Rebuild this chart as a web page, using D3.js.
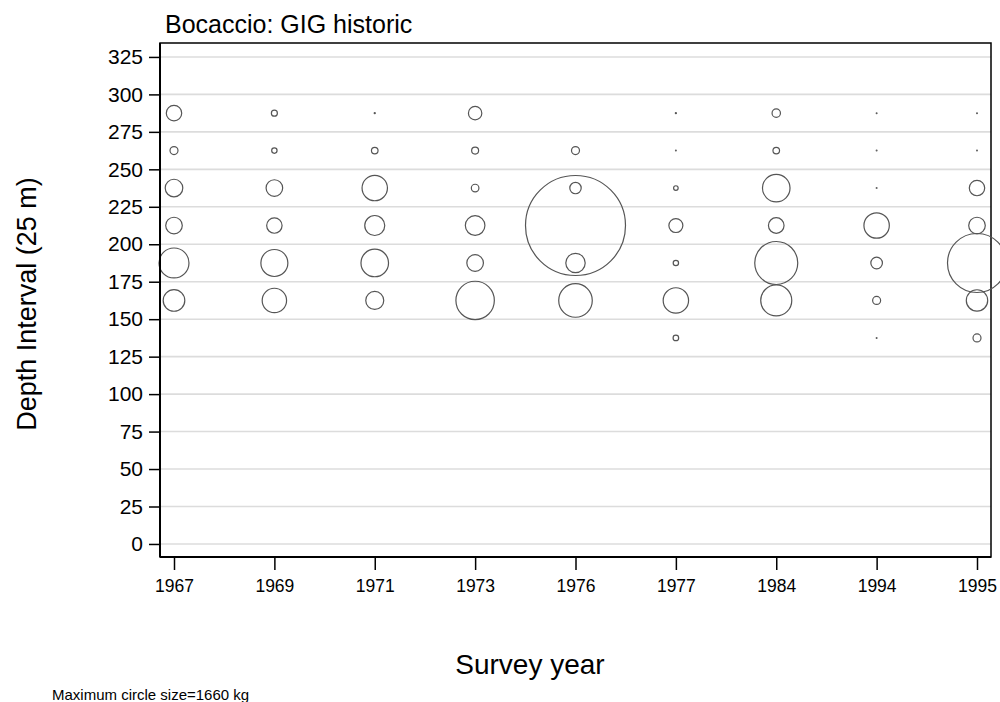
<!DOCTYPE html>
<html>
<head>
<meta charset="utf-8">
<script src="https://cdn.jsdelivr.net/npm/d3@7"></script>
<style>
  body { margin: 0; background: #fff; }
  text { font-family: "Liberation Sans", Arial, sans-serif; fill: #000; }
</style>
</head>
<body>
<svg id="chart"></svg>
<script>
const WIDTH = 1000;
const HEIGHT = 702;

// survey years (categorical x axis)
var years = ['1967', '1969', '1971', '1973', '1976', '1977', '1984', '1994', '1995'];
// depth interval midpoints
var depths = [137.5, 162.5, 187.5, 212.5, 237.5, 262.5, 287.5];
var yTicks = d3.range(0, 326, 25);
var maxCatch = 1660; // kg, drawn as the largest circle

// catch (kg) per year, ordered as depths above; null = no record
var catch1967 = [null, 77.5, 149, 45.7, 51.4, 10.6, 39.4];
var catch1969 = [null, 98.8, 121, 39.4, 45.7, 4.8, 6];
var catch1971 = [null, 53.8, 126, 66.4, 107, 7.2, 0.2];
var catch1973 = [null, 245, 45.7, 63.8, 9.6, 8.1, 29.8];
var catch1976 = [null, 187, 62.5, 1660, 21.6, 10.6, null];
var catch1977 = [5.2, 107, 4.8, 32.5, 3.5, 0.06, 0.2];
var catch1984 = [null, 160, 307, 40.4, 126, 7.2, 11.7];
var catch1994 = [0.1, 10.6, 22.3, 107, 0.1, 0.1, 0.1];
var catch1995 = [10.6, 76, 578, 45.7, 39.4, 0.1, 0.1];

var catches = [catch1967, catch1969, catch1971, catch1973, catch1976,
               catch1977, catch1984, catch1994, catch1995];

// flatten into points
var points = [];
years.forEach(function(yr, i){
    catches[i].forEach(function(v, j){
        if (v !== null) points.push({year: yr, depth: depths[j], kg: v});
    });
});

var margin = {top: 43, right: 9, bottom: 145, left: 160};
var plotW = WIDTH - margin.left - margin.right;
var plotH = HEIGHT - margin.top - margin.bottom;

var svg = d3.select('#chart')
    .attr('width', WIDTH)
    .attr('height', HEIGHT);

var g = svg.append('g')
    .attr('transform', 'translate(' + margin.left + ',' + margin.top + ')');

var xScale = d3.scalePoint()
    .domain(years)
    .range([14, 817]);

var yScale = d3.scaleLinear()
    .domain([-8.7, 334.3])
    .range([plotH, 0]);

var rScale = d3.scaleSqrt()
    .domain([0, maxCatch])
    .range([0, 50]);

// horizontal gridlines
g.selectAll('.grid')
    .data(yTicks)
    .enter()
    .append('line')
    .attr('class', 'grid')
    .attr('x1', 0)
    .attr('x2', plotW)
    .attr('y1', function(d){ return yScale(d); })
    .attr('y2', function(d){ return yScale(d); })
    .attr('stroke', '#dcdcdc')
    .attr('stroke-width', 1.6);

// plot frame
g.append('rect')
    .attr('x', 0)
    .attr('y', 0)
    .attr('width', plotW)
    .attr('height', plotH)
    .attr('fill', 'none')
    .attr('stroke', '#000')
    .attr('stroke-width', 1.5);

// circles
g.selectAll('circle')
    .data(points)
    .enter()
    .append('circle')
    .attr('cx', function(d){ return xScale(d.year); })
    .attr('cy', function(d){ return yScale(d.depth); })
    .attr('r', function(d){ return Math.max(rScale(d.kg), 0.4); })
    .attr('fill', 'none')
    .attr('stroke', '#555')
    .attr('stroke-width', 1.2);

// y axis
var yAxis = g.append('g')
    .call(d3.axisLeft(yScale).tickValues(yTicks).tickSize(11).tickPadding(6));
yAxis.select('.domain').attr('stroke-width', 2).attr('d', 'M0,0V' + plotH);
yAxis.selectAll('.tick line').attr('stroke-width', 1.5);
yAxis.selectAll('.tick text').style('font-size', '21px');

// x axis
var xAxis = g.append('g')
    .attr('transform', 'translate(0,' + plotH + ')')
    .call(d3.axisBottom(xScale).tickSize(13).tickPadding(10));
xAxis.select('.domain').attr('stroke-width', 2).attr('d', 'M0,0H' + plotW);
xAxis.selectAll('.tick line').attr('stroke-width', 1.5);
xAxis.selectAll('.tick text').style('font-size', '17.5px');

// title and axis titles
svg.append('text')
    .attr('x', 165)
    .attr('y', 33)
    .style('font-size', '25px')
    .text('Bocaccio: GIG historic');

svg.append('text')
    .attr('transform', 'translate(36,' + 304 + ') rotate(-90)')
    .attr('text-anchor', 'middle')
    .style('font-size', '27px')
    .text('Depth Interval (25 m)');

svg.append('text')
    .attr('x', 530)
    .attr('y', 674)
    .attr('text-anchor', 'middle')
    .style('font-size', '28px')
    .text('Survey year');

svg.append('text')
    .attr('x', 52)
    .attr('y', 700)
    .style('font-size', '15px')
    .text('Maximum circle size=' + maxCatch + ' kg');
</script>
</body>
</html>
